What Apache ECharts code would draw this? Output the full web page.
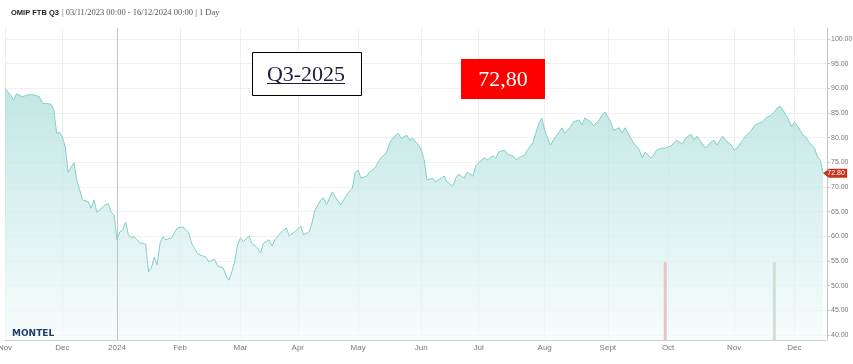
<!DOCTYPE html>
<html><head><meta charset="utf-8">
<script src="https://cdn.jsdelivr.net/npm/echarts@6/dist/echarts.min.js"></script>
<style>html,body{margin:0;padding:0;background:#fff}#c{width:853px;height:364px}</style>
</head><body><div id="c"></div>
<script>
// ---- data ----
const holidays = ['2023-12-25','2023-12-26','2024-01-01','2024-03-29','2024-04-01','2024-05-01'];
const axisStart = '2023-11-03';
const axisEnd = '2024-12-17';
const monthNames = ['Jan','Feb','Mar','Apr','May','Jun','Jul','Aug','Sept','Oct','Nov','Dec'];
const yTicks = [40,45,50,55,60,65,70,75,80,85,90,95,100];
const priceDates = [
'2023-11-03','2023-11-07','2023-11-08','2023-11-09','2023-11-10','2023-11-13','2023-11-15','2023-11-17','2023-11-21','2023-11-22',
'2023-11-27','2023-11-28','2023-11-29','2023-11-30','2023-12-01','2023-12-04','2023-12-05','2023-12-07','2023-12-08','2023-12-12',
'2023-12-14','2023-12-15','2023-12-18','2023-12-19','2023-12-21','2023-12-22','2023-12-27','2023-12-28','2023-12-29','2024-01-02',
'2024-01-03','2024-01-04','2024-01-05','2024-01-08','2024-01-09','2024-01-10','2024-01-12','2024-01-16','2024-01-17','2024-01-18',
'2024-01-19','2024-01-22','2024-01-23','2024-01-24','2024-01-25','2024-01-29','2024-01-30','2024-01-31','2024-02-02','2024-02-05',
'2024-02-06','2024-02-07','2024-02-09','2024-02-12','2024-02-14','2024-02-15','2024-02-19','2024-02-20','2024-02-22','2024-02-23',
'2024-02-26','2024-02-27','2024-02-28','2024-02-29','2024-03-01','2024-03-04','2024-03-06','2024-03-07','2024-03-11','2024-03-12',
'2024-03-13','2024-03-15','2024-03-18','2024-03-19','2024-03-21','2024-03-25','2024-03-26','2024-03-28','2024-04-03','2024-04-04',
'2024-04-08','2024-04-09','2024-04-10','2024-04-12','2024-04-15','2024-04-16','2024-04-18','2024-04-19','2024-04-23','2024-04-24',
'2024-04-25','2024-04-29','2024-04-30','2024-05-02','2024-05-03','2024-05-07','2024-05-08','2024-05-10','2024-05-13','2024-05-14',
'2024-05-16','2024-05-17','2024-05-20','2024-05-22','2024-05-23','2024-05-27','2024-05-28','2024-05-29','2024-05-31','2024-06-03',
'2024-06-04','2024-06-05','2024-06-07','2024-06-10','2024-06-12','2024-06-13','2024-06-14','2024-06-18','2024-06-19','2024-06-20',
'2024-06-24','2024-06-25','2024-06-27','2024-06-28','2024-07-02','2024-07-03','2024-07-04','2024-07-08','2024-07-09','2024-07-10',
'2024-07-12','2024-07-15','2024-07-17','2024-07-18','2024-07-19','2024-07-23','2024-07-24','2024-07-26','2024-07-29','2024-07-30',
'2024-07-31','2024-08-01','2024-08-05','2024-08-06','2024-08-08','2024-08-09','2024-08-12','2024-08-14','2024-08-15','2024-08-19',
'2024-08-20','2024-08-21','2024-08-23','2024-08-26','2024-08-28','2024-08-29','2024-08-30','2024-09-03','2024-09-04','2024-09-06',
'2024-09-09','2024-09-10','2024-09-12','2024-09-13','2024-09-17','2024-09-18','2024-09-19','2024-09-23','2024-09-24','2024-09-25',
'2024-09-27','2024-09-30','2024-10-02','2024-10-03','2024-10-04','2024-10-08','2024-10-09','2024-10-11','2024-10-14','2024-10-15',
'2024-10-17','2024-10-18','2024-10-22','2024-10-23','2024-10-24','2024-10-28','2024-10-29','2024-10-31','2024-11-01','2024-11-04',
'2024-11-06','2024-11-07','2024-11-11','2024-11-12','2024-11-13','2024-11-15','2024-11-18','2024-11-20','2024-11-21','2024-11-22',
'2024-11-25','2024-11-26','2024-11-27','2024-11-28','2024-11-29','2024-12-02','2024-12-03','2024-12-04','2024-12-05','2024-12-06',
'2024-12-09','2024-12-10','2024-12-11','2024-12-12','2024-12-13','2024-12-16'];
const priceValues = [
90.0,88.6,87.6,88.9,88.6,88.3,88.7,88.7,88.3,87.0,
86.8,85.6,80.9,81.1,80.1,78.1,73.0,74.9,71.4,67.4,
67.0,65.7,67.4,64.9,65.9,66.4,66.6,64.9,64.3,59.3,
60.9,61.3,62.9,60.3,59.7,59.9,58.7,58.4,52.8,53.6,
55.8,54.2,58.6,59.9,59.3,59.7,60.7,61.7,61.9,61.3,
60.7,58.6,56.6,56.2,55.8,54.8,55.4,54.0,53.6,52.0,
51.1,52.8,54.8,58.2,59.7,58.9,60.1,58.6,57.6,56.6,
58.6,59.3,58.0,59.3,60.7,61.7,60.1,60.9,62.1,60.3,
60.9,62.9,65.3,67.4,67.8,66.4,69.0,68.0,66.4,67.4,
68.4,69.8,73.0,73.4,71.8,72.2,73.0,73.9,75.1,75.9,
77.1,78.9,79.9,80.9,79.9,80.5,79.5,79.9,78.5,77.5,
75.5,71.4,71.8,71.0,71.8,72.2,71.0,70.2,71.8,72.6,
71.8,73.0,72.2,74.3,75.5,75.9,75.5,76.3,75.9,77.1,
77.5,76.7,76.3,75.5,75.9,76.5,77.5,79.1,81.1,83.0,
84.0,81.5,78.5,79.5,81.1,82.0,80.9,82.2,83.2,83.6,
82.6,84.0,83.2,82.4,83.6,84.6,85.2,83.2,81.5,82.0,
80.9,82.0,79.9,78.9,77.5,75.9,77.1,75.9,76.5,77.5,
77.9,77.9,78.3,78.9,79.5,78.7,79.9,80.7,79.5,80.3,
78.7,77.9,79.1,79.5,78.5,80.3,79.5,78.5,77.5,77.9,
79.5,80.3,81.5,82.4,82.8,83.2,84.0,84.6,85.2,86.0,
86.4,85.6,84.6,83.6,82.2,83.2,82.4,81.5,80.5,80.1,
79.1,78.5,77.9,76.1,75.5,72.8];
const volumeDates = ['2024-09-30','2024-11-21'];
const volumeValues = [1, 1];
const lastPrice = 72.80;

// ---- trading-day calendar ----
const cats = [];
{
  let d = new Date(axisStart + 'T00:00:00Z');
  const end = new Date(axisEnd + 'T00:00:00Z');
  while (d <= end) {
    const s = d.toISOString().slice(0, 10);
    const wd = d.getUTCDay();
    if (wd !== 0 && wd !== 6 && holidays.indexOf(s) < 0) cats.push(s);
    d = new Date(d.getTime() + 86400000);
  }
}
const isMonthStart = cats.map((c, i) => i === 0 || c.slice(0, 7) !== cats[i - 1].slice(0, 7));
const monthLabel = (c) => {
  const m = +c.slice(5, 7);
  return m === 1 ? c.slice(0, 4) : monthNames[m - 1];
};

// value range: lowest tick sits 5px above the plot bottom, highest tick 11px below its top
const tLo = yTicks[0], tHi = yTicks[yTicks.length - 1];
const pxPerUnit = (335 - 39) / (tHi - tLo);
const yMin = tLo - 5 / pxPerUnit;
const yMax = tHi + 11 / pxPerUnit;

const chart = echarts.init(document.getElementById('c'));
chart.setOption({
  animation: false,
  grid: {left: 5, right: 27, top: 28, bottom: 24, outerBoundsMode: 'none', containLabel: false},
  xAxis: {
    type: 'category', data: cats, boundaryGap: false,
    axisLine: {lineStyle: {color: '#cccccc'}},
    axisTick: {show: false},
    axisLabel: {
      interval: (i) => isMonthStart[i],
      formatter: (v) => monthLabel(v),
      color: '#777', fontSize: 8, margin: 4, fontFamily: 'Liberation Sans',
      hideOverlap: false
    },
    splitLine: {show: true, interval: (i) => isMonthStart[i], lineStyle: {color: '#eeeeee', width: 1}}
  },
  yAxis: [
    {
      type: 'value', position: 'right', offset: 1, min: yMin, max: yMax,
      axisLine: {show: true, lineStyle: {color: '#c4c4c4'}},
      axisTick: {show: true, length: 3, customValues: yTicks, lineStyle: {color: '#c4c4c4'}},
      axisLabel: {customValues: yTicks, formatter: (v) => (+v).toFixed(2), fontSize: 7, color: '#777', margin: 4, fontFamily: 'Liberation Sans'},
      splitLine: {show: true, lineStyle: {color: '#f1f1f1'}}
    },
    {type: 'value', show: false, min: 0, max: 4, position: 'left'}
  ],
  series: [
    {
      type: 'line', yAxisIndex: 0,
      data: priceDates.map((d, i) => [d, priceValues[i]]),
      showSymbol: false, symbol: 'none', z: 2,
      lineStyle: {color: '#86cec7', width: 1},
      areaStyle: {
        color: new echarts.graphic.LinearGradient(0, 0, 0, 1, [
          {offset: 0, color: '#a6dcd7'},
          {offset: 1, color: '#f3fbfb'}
        ])
      },
      markLine: {
        silent: true, symbol: 'none', animation: false,
        label: {show: false},
        lineStyle: {color: '#c4c4c4', type: 'solid', width: 1},
        data: [{xAxis: '2024-01-02'}]
      },
      markPoint: {
        silent: true,
        symbol: 'path://M0,5L7,0L30,0L30,10L7,10Z',
        symbolSize: [24, 9], symbolOffset: [12, 0], symbolKeepAspect: false,
        itemStyle: {color: '#c8331c'},
        label: {show: true, color: '#fff', fontSize: 7, fontFamily: 'Liberation Sans', formatter: () => lastPrice.toFixed(2), offset: [1, 0]},
        data: [{coord: [priceDates[priceDates.length - 1], lastPrice]}]
      }
    },
    {
      type: 'bar', yAxisIndex: 1, barWidth: 3, z: 3,
      data: volumeDates.map((d, i) => ({
        value: [d, volumeValues[i]],
        itemStyle: {color: i === 0 ? '#e9c4c1' : '#cde1d4'}
      }))
    }
  ],
  graphic: [
    {type: 'text', x: 11, y: 13, style: {text: 'OMIP FTB Q3', font: 'bold 7.5px "Liberation Sans"', fill: '#222', textVerticalAlign: 'middle', verticalAlign: 'middle'}},
    {type: 'text', x: 62, y: 13, style: {text: '| 03/11/2023 00:00 - 16/12/2024 00:00 | 1 Day', font: '8.5px "Liberation Serif"', fill: '#555', textVerticalAlign: 'middle', verticalAlign: 'middle'}},
    {type: 'rect', shape: {x: 252.5, y: 52.5, width: 109, height: 43}, style: {fill: '#ffffff', stroke: '#000000', lineWidth: 1}, z: 10},
    {type: 'text', x: 306, y: 75, z: 11, style: {text: 'Q3-2025', font: '22px "Liberation Serif"', fill: '#1b1b3b', textAlign: 'center', align: 'center', textVerticalAlign: 'middle', verticalAlign: 'middle'}},
    {type: 'line', z: 11, shape: {x1: 267, y1: 83.5, x2: 345, y2: 83.5}, style: {stroke: '#1b1b3b', lineWidth: 1}},
    {type: 'rect', shape: {x: 461, y: 59, width: 84, height: 40}, style: {fill: '#ff0000'}, z: 10},
    {type: 'text', x: 503, y: 80, z: 11, style: {text: '72,80', font: '22px "Liberation Serif"', fill: '#ffffff', textAlign: 'center', align: 'center', textVerticalAlign: 'middle', verticalAlign: 'middle'}},
    {type: 'text', x: 12, y: 334, z: 11, style: {text: 'MONTEL', font: 'bold 9px "DejaVu Sans"', fill: '#1f3b70', textVerticalAlign: 'middle', verticalAlign: 'middle'}}
  ]
});
</script>
</body></html>
